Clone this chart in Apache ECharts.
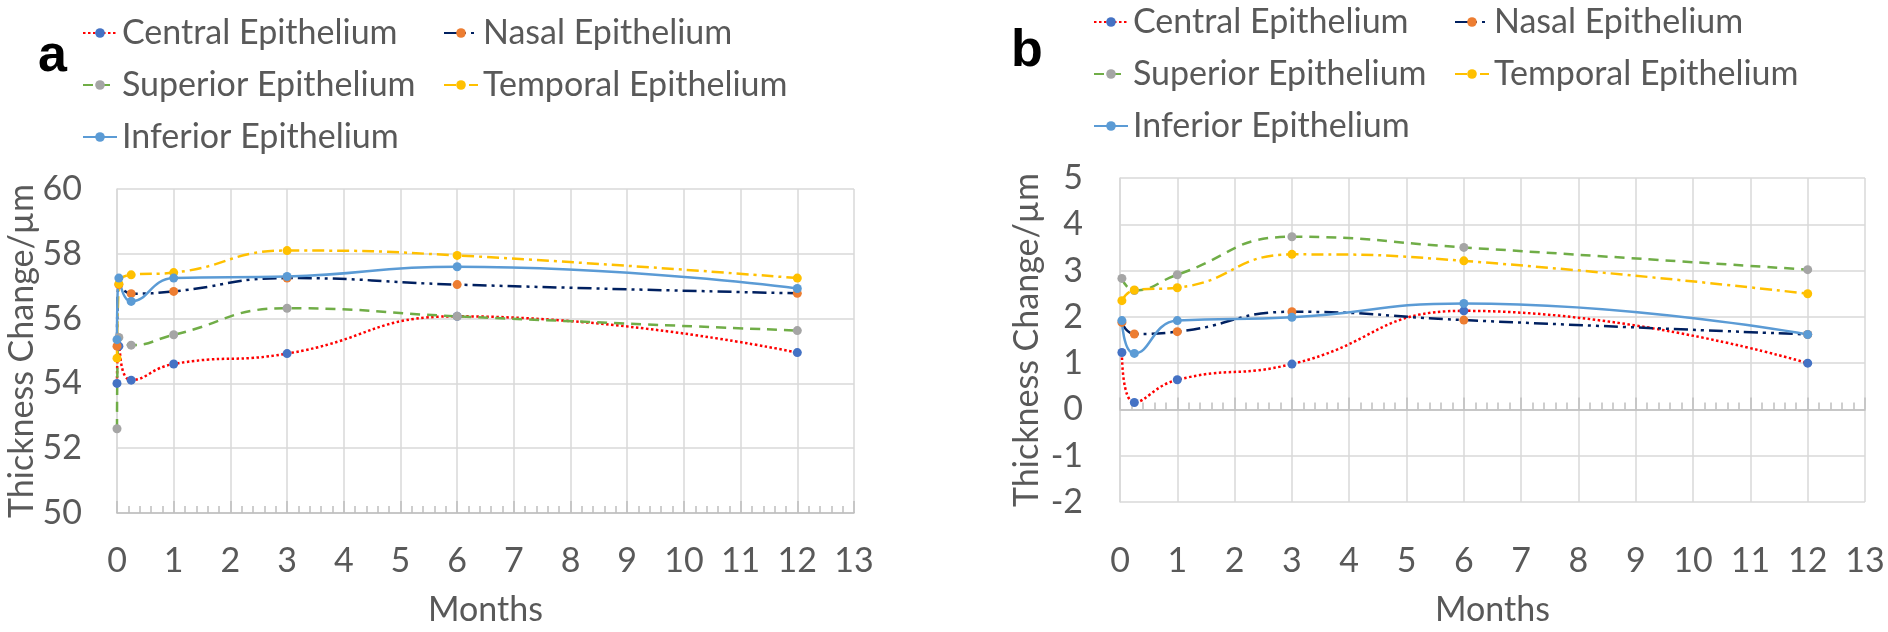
<!DOCTYPE html>
<html>
<head>
<meta charset="utf-8">
<script src="https://cdn.jsdelivr.net/npm/echarts@6/dist/echarts.min.js"></script>
<style>
html,body{margin:0;padding:0;background:#fff;}
#c{width:1888px;height:632px;}
</style>
</head>
<body>
<div id="c"></div>
<script>
// ---- data ----
const seriesNames = ['Central Epithelium','Nasal Epithelium','Superior Epithelium','Temporal Epithelium','Inferior Epithelium'];
const monthsA = [0, 0.033, 0.25, 1, 3, 6, 12];
const centralA  = [54.00, 55.15, 54.10, 54.60, 54.92, 56.07, 54.95];
const nasalA    = [55.15, 57.05, 56.77, 56.84, 57.25, 57.05, 56.78];
const superiorA = [52.60, 55.42, 55.18, 55.50, 56.32, 56.07, 55.63];
const temporalA = [54.78, 57.07, 57.35, 57.42, 58.10, 57.95, 57.25];
const inferiorA = [55.35, 57.25, 56.53, 57.25, 57.30, 57.60, 56.93];

const monthsB = [0.033, 0.25, 1, 3, 6, 12];
const centralB  = [1.23, 0.15, 0.64, 0.98, 2.13, 1.00];
const nasalB    = [1.88, 1.63, 1.68, 2.11, 1.93, 1.62];
const superiorB = [2.83, 2.57, 2.91, 3.73, 3.50, 3.02];
const temporalB = [2.35, 2.58, 2.63, 3.35, 3.21, 2.50];
const inferiorB = [1.92, 1.21, 1.92, 1.99, 2.29, 1.62];

const xTicksMin = 0, xTicksMax = 13;
const yTicksA = {min:50, max:60, interval:2};
const yTicksB = {min:-2, max:5, interval:1};
const yTitle = 'Thickness Change/µm';
const xTitle = 'Months';

// ---- styles ----
const FONT = 'Lato';
const FS = 34;
const TXT = '#595959';
const GRIDC = '#D9D9D9';
const AXC = '#BFBFBF';
const styles = [
  {line:'#FF0000', mark:'#4472C4', type:[2.5,2.5]},
  {line:'#002060', mark:'#ED7D31', type:[14,5,3,5,3,5]},
  {line:'#70AD47', mark:'#A5A5A5', type:[10,7]},
  {line:'#FFC000', mark:'#FFC000', type:[12,5,3,5]},
  {line:'#5B9BD5', mark:'#5B9BD5', type:'solid'}
];
function zip(xs, ys){ return xs.map((x,i)=>[x, ys[i]]); }
const dataA = [centralA, nasalA, superiorA, temporalA, inferiorA];
const dataB = [centralB, nasalB, superiorB, temporalB, inferiorB];

function mkSeries(xs, ys, idx, xAxisIndex, yAxisIndex){
  const s = styles[idx];
  return {
    name: seriesNames[idx], type:'line', xAxisIndex, yAxisIndex,
    data: zip(xs, ys), smooth: 0.5,
    symbol:'circle', symbolSize:9,
    lineStyle:{color:s.line, width:2.5, type:s.type},
    itemStyle:{color:s.mark, borderWidth:0},
    emphasis:{disabled:true}, animation:false
  };
}

const series = [];
for (let i=0;i<5;i++) series.push(mkSeries(monthsA, dataA[i], i, 0, 0));
for (let i=0;i<5;i++) series.push(mkSeries(monthsB, dataB[i], i, 1, 1));

const axisLabelStyle = {fontFamily:FONT, fontSize:FS, color:TXT};
const legendText = {fontFamily:FONT, fontSize:FS, color:TXT, lineHeight:40};

function xAxisMain(gridIndex, onZero, showLabels, labelMargin, nameGap){
  return {
    type:'value', gridIndex, min:xTicksMin, max:xTicksMax, interval:1,
    position:'bottom',
    name: showLabels ? xTitle : '', nameLocation:'middle', nameGap:nameGap,
    nameTextStyle:{fontFamily:FONT, fontSize:FS, color:TXT},
    axisLine:{show:true, onZero:onZero, lineStyle:{color:AXC, width:1.5}},
    axisTick:{show:true, inside:true, length:12, lineStyle:{color:AXC, width:1.5}},
    minorTick:{show:true, splitNumber:5, length:7, lineStyle:{color:AXC, width:1.5}},
    splitLine:{show:true, lineStyle:{color:GRIDC, width:1.5}},
    axisLabel:{show:showLabels, margin:labelMargin, ...axisLabelStyle}
  };
}

const option = {
  backgroundColor:'#fff',
  animation:false,
  title:[
    {text:'a', left:33, top:26, textStyle:{fontFamily:'Liberation Sans', fontWeight:'bold', fontSize:52, color:'#000'}},
    {text:'b', left:1006, top:21, textStyle:{fontFamily:'Liberation Sans', fontWeight:'bold', fontSize:52, color:'#000'}}
  ],
  legend:[
    {data:['Central Epithelium','Superior Epithelium','Inferior Epithelium'], orient:'vertical', left:77, top:8,
     itemWidth:34, itemHeight:12, itemGap:12, selectedMode:false, textStyle:legendText},
    {data:['Nasal Epithelium','Temporal Epithelium'], orient:'vertical', left:438, top:8,
     itemWidth:34, itemHeight:12, itemGap:12, selectedMode:false, textStyle:legendText},
    {data:['Central Epithelium','Superior Epithelium','Inferior Epithelium'], orient:'vertical', left:1088, top:-3,
     itemWidth:34, itemHeight:12, itemGap:12, selectedMode:false, textStyle:legendText},
    {data:['Nasal Epithelium','Temporal Epithelium'], orient:'vertical', left:1449, top:-3,
     itemWidth:34, itemHeight:12, itemGap:12, selectedMode:false, textStyle:legendText}
  ],
  grid:[
    {left:117, top:189, width:737, height:330},
    {left:1120, top:178, width:745, height:330}
  ],
  xAxis:[
    xAxisMain(0, false, true, 31, 80),
    xAxisMain(1, true, false, 31, 0),
    {type:'value', gridIndex:1, min:xTicksMin, max:xTicksMax, interval:1, position:'bottom',
     name:xTitle, nameLocation:'middle', nameGap:91,
     nameTextStyle:{fontFamily:FONT, fontSize:FS, color:TXT},
     axisLine:{show:false, onZero:false}, axisTick:{show:false}, splitLine:{show:false},
     axisLabel:{show:true, margin:42, ...axisLabelStyle}}
  ],
  yAxis:[
    {type:'value', gridIndex:0, min:yTicksA.min, max:yTicksA.max, interval:yTicksA.interval,
     name:yTitle, nameLocation:'middle', nameGap:76, nameRotate:90,
     nameTextStyle:{fontFamily:FONT, fontSize:FS, color:TXT},
     axisLine:{show:true, lineStyle:{color:GRIDC, width:1.5}}, axisTick:{show:false},
     splitLine:{show:true, lineStyle:{color:GRIDC, width:1.5}},
     axisLabel:{margin:35, ...axisLabelStyle}},
    {type:'value', gridIndex:1, min:yTicksB.min, max:yTicksB.max, interval:yTicksB.interval,
     name:yTitle, nameLocation:'middle', nameGap:76, nameRotate:90,
     nameTextStyle:{fontFamily:FONT, fontSize:FS, color:TXT},
     axisLine:{show:true, lineStyle:{color:GRIDC, width:1.5}}, axisTick:{show:false},
     splitLine:{show:true, lineStyle:{color:GRIDC, width:1.5}},
     axisLabel:{margin:37, ...axisLabelStyle}}
  ],
  series
};
const chart = echarts.init(document.getElementById('c'), null, {renderer:'canvas'});
chart.setOption(option);
</script>
</body>
</html>
